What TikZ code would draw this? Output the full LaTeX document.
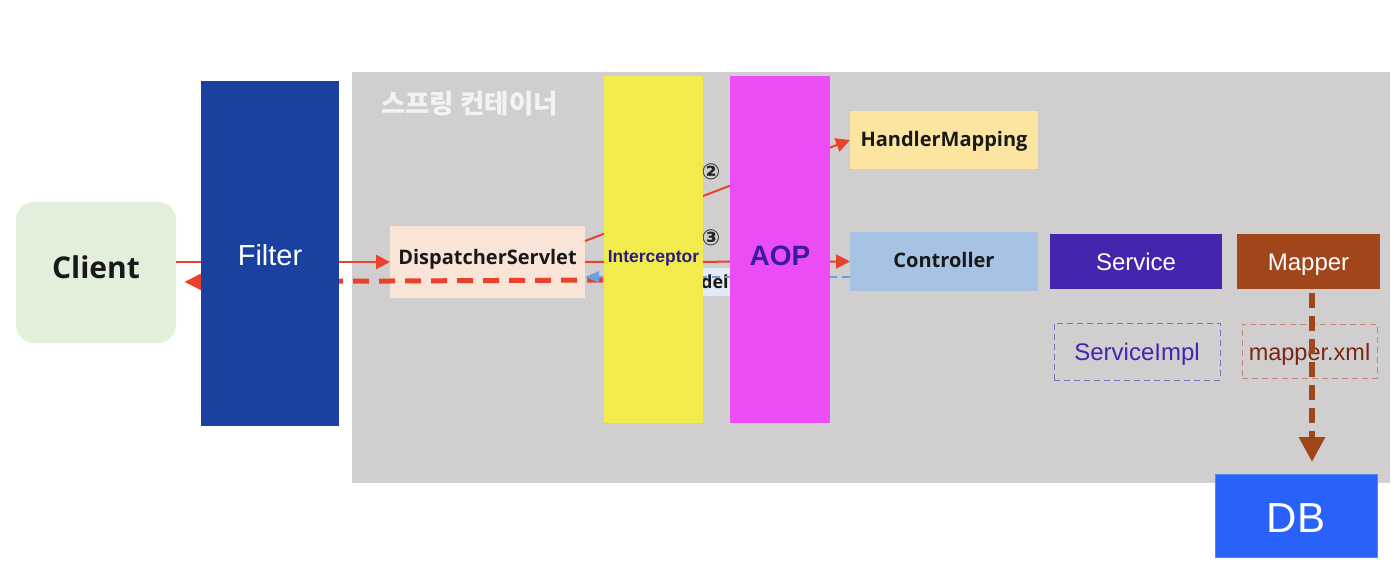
\documentclass[tikz,border=0pt]{standalone}
\usepackage{fontspec}
\usetikzlibrary{arrows.meta,calc}
\setmainfont{Liberation Sans}
\newfontfamily\krfont{Noto Sans CJK KR}
\newfontfamily\lblfont{Open Sans}
\newfontfamily\symfont{DejaVu Sans}
\definecolor{cgray}{HTML}{D0CECF}
\definecolor{cclient}{HTML}{E2EFDA}
\definecolor{cfilter}{HTML}{1A40A0}
\definecolor{cdisp}{HTML}{F8E5D7}
\definecolor{cintc}{HTML}{F1EB4E}
\definecolor{caop}{HTML}{EB4CF5}
\definecolor{chm}{HTML}{FBE5A1}
\definecolor{cctrl}{HTML}{A6C3E3}
\definecolor{csvc}{HTML}{4524AE}
\definecolor{cmap}{HTML}{A1461B}
\definecolor{cdb}{HTML}{2962FA}
\definecolor{cred}{HTML}{E8412C}
\definecolor{cblue}{HTML}{6C9FDB}
\definecolor{cintctext}{HTML}{2B1B7E}
\definecolor{caoptext}{HTML}{3A1C9E}
\definecolor{csimpl}{HTML}{7C70C4}
\definecolor{cmxml}{HTML}{C48878}
\definecolor{cmxmltext}{HTML}{7B2410}
\definecolor{clbl}{HTML}{E2EBF5}
\definecolor{ctitle}{HTML}{F3F3F3}
\tikzset{
  box/.style={inner sep=0pt, outer sep=0pt, draw=none},
  boldlbl/.style={box, font=\lblfont\bfseries\fontsize{20}{22}\selectfont, text=black!90, text height=14pt},
  sanslbl/.style={box, font=\fontsize{24}{28}\selectfont, text=white, text height=17pt, text depth=0pt},
  redarrow/.style={draw=cred, line width=2.5pt, -{Triangle[length=14pt,width=14pt]}},
  reddash/.style={draw=cred, line width=5pt, dash pattern=on 16pt off 10pt, -{Triangle[length=20pt,width=18pt]}},
  bluedash/.style={draw=cblue, line width=2pt, dash pattern=on 8pt off 5pt, -{Triangle[length=14pt,width=11pt]}},
  browndash/.style={draw=cmap, line width=6pt, dash pattern=on 15pt off 8pt, -{Triangle[length=25pt,width=25pt]}},
  circnum/.style={inner sep=0pt, font=\symfont\bfseries\fontsize{22}{24}\selectfont, text=black!85}
}
\begin{document}
\begin{tikzpicture}[x=1pt,y=-1pt]
\useasboundingbox (0,0) rectangle (1394,580);
% container
\fill[cgray] (352,72) rectangle (1390,483);
\node[anchor=west, inner sep=0pt, text=ctitle, font=\krfont\bfseries\fontsize{26.5}{28}\selectfont] (title) at (381,104) {스프링 컨테이너};
% nodes (behind layers)
\node[box, fill=cclient, rounded corners=18pt, minimum width=160pt, minimum height=141pt, text=black!90, text height=22pt, text depth=11pt, font=\lblfont\bfseries\fontsize{30}{34}\selectfont] (client) at (96,272.5) {Client};
\node[boldlbl, fill=cdisp, minimum width=195pt, minimum height=72pt, text depth=9pt] (disp) at (487.5,262) {DispatcherServlet};
\node[boldlbl, fill=chm, minimum width=188pt, minimum height=58pt, text depth=0pt] (hm) at (944,140) {HandlerMapping};
\node[boldlbl, fill=cctrl, minimum width=188pt, minimum height=59pt, text depth=3pt] (ctrl) at (944,261.5) {Controller};
\node[sanslbl, fill=csvc, minimum width=172pt, minimum height=55pt] (svc) at (1136,261.5) {Service};
\node[sanslbl, fill=cmap, minimum width=143pt, minimum height=55pt] (mapper) at (1308.5,261.5) {Mapper};
\node[box, draw=csimpl, line width=1pt, dash pattern=on 6pt off 4pt, minimum width=166pt, minimum height=57pt, text=csvc, text height=17pt, text depth=0pt, font=\fontsize{24}{28}\selectfont] (simpl) at (1137,351.5) {ServiceImpl};
\node[box, draw=cmxml, line width=1pt, dash pattern=on 6pt off 4pt, minimum width=135pt, minimum height=54pt, text=cmxmltext, text height=18pt, text depth=0pt, font=\fontsize{23.5}{28}\selectfont] (mxml) at (1309.5,351) {mapper.xml};
\node[box, fill=cdb, draw=cblue!60!cdb, line width=0.8pt, minimum width=162pt, minimum height=83pt, text=white, text height=33pt, text depth=0pt, font=\fontsize{42}{46}\selectfont] (db) at (1296,515.5) {DB};
% connectors
\coordinate (ret) at (603,280);
\coordinate (bret) at (850,277);
\coordinate (d2) at (585,241);
\draw[redarrow] (client.east |- disp.west) -- (disp.west);
\draw[reddash, shorten >=8pt] (ret) -- (client.east |- 0,282);
\node[anchor=west, inner xsep=4pt, inner ysep=0pt, minimum height=28pt, fill=clbl, text=black!90, font=\lblfont\bfseries\fontsize{18}{22}\selectfont] (lbl) at (697,282) {del};
\draw[bluedash] (bret) -- (disp.east |- bret);
\draw[redarrow, line width=2pt] (d2) -- (hm.west);
\draw[redarrow, line width=2pt] (disp.east) -- (ctrl.west);
\node[circnum] (n2) at (711,172) {②};
\node[circnum] (n3) at (711,238) {③};
\draw[browndash] ([xshift=3.5pt,yshift=-4pt]mapper.south) -- ([xshift=16pt,yshift=12pt]db.north);
% front layers
\node[box, fill=cfilter, minimum width=138pt, minimum height=345pt, text=white, text height=23pt, text depth=0pt, font=\fontsize{29}{32}\selectfont] (filter) at (270,253.5) {Filter};
\node[box, fill=cintc, minimum width=99pt, minimum height=347pt, text=cintctext, text height=25pt, text depth=0pt, font=\bfseries\fontsize{17.5}{20}\selectfont] (intc) at (653.5,249.5) {Interceptor};
\node[box, fill=caop, minimum width=100pt, minimum height=347pt, text=caoptext, text height=31pt, text depth=0pt, font=\bfseries\fontsize{28}{32}\selectfont] (aop) at (780,249.5) {AOP};
\end{tikzpicture}
\end{document}
